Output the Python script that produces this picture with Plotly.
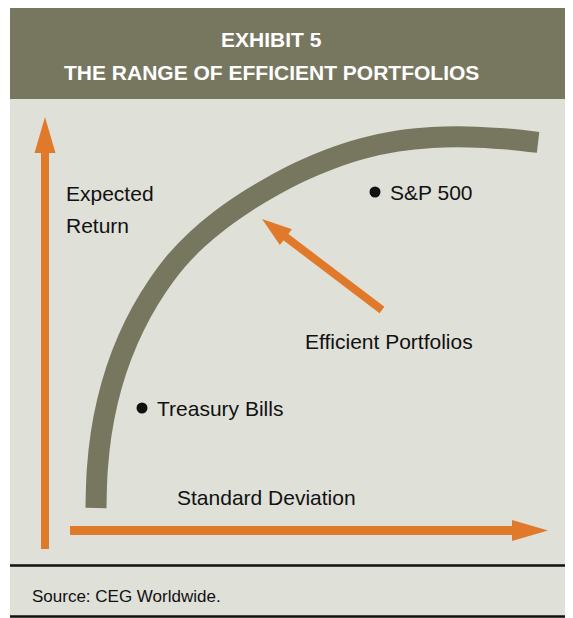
import math
import plotly.graph_objects as go

# ---------------- data (schematic diagram units; y measured upward) ----------------
frontier_x = [96, 97.3, 101.1, 107.5, 116.4, 127.8, 141.6, 157.7, 176.1, 197.1, 220.1,
              245.1, 272.1, 300.1, 330.1, 363.1, 397.1, 432.1, 468.1, 504.1, 538.1]
frontier_y = [110, 148.5, 183.7, 216.9, 248.3, 278, 306.1, 332.4, 356.9, 378.6, 397.9,
              415.4, 431.6, 446.2, 458.9, 469.6, 476.8, 480.5, 481.1, 479.2, 475.6]

asset_names = ["Treasury Bills", "S&P 500"]
asset_x = [142, 375]
asset_y = [210, 426]

title_lines = ["EXHIBIT 5", "THE RANGE OF EFFICIENT PORTFOLIOS"]
y_label_lines = ["Expected", "Return"]
x_label = "Standard Deviation"
frontier_label = "Efficient Portfolios"
source_text = "Source: CEG Worldwide."

# ---------------- style ----------------
W, H = 573, 618
OFF = 8  # page body margin compensation
OLIVE = "#77775F"
BG = "#DFE0D8"
ORANGE = "#E07A2A"
FONT = "Liberation Sans, Arial, Helvetica, sans-serif"
TXT = "#111111"
LBL = 21

fig = go.Figure()

fig.add_trace(go.Scatter(
    x=frontier_x, y=frontier_y, mode="lines",
    line=dict(color=OLIVE, width=21, shape="spline", smoothing=1.0),
    hoverinfo="skip", showlegend=False))

fig.add_trace(go.Scatter(
    x=asset_x, y=asset_y, mode="markers",
    marker=dict(color=TXT, size=11),
    hoverinfo="skip", showlegend=False))

shapes = []
shapes.append(dict(type="rect", xref="x", yref="y", x0=10, x1=W + 20, y0=H - 640, y1=H - 99,
                   fillcolor=BG, line=dict(width=0), layer="below"))
shapes.append(dict(type="rect", xref="x", yref="y", x0=10, x1=W + 20, y0=H - 99, y1=H - 4,
                   fillcolor=OLIVE, line=dict(width=0), layer="below"))
for py in (565.5, 616.5):
    shapes.append(dict(type="line", xref="x", yref="y", x0=10, x1=W + 20, y0=H - py, y1=H - py,
                       line=dict(color=TXT, width=2.5), layer="above"))


def arrow(tail, tip, head_len, half_w, shaft_w):
    dx, dy = tip[0] - tail[0], tip[1] - tail[1]
    L = math.hypot(dx, dy)
    ux, uy = dx / L, dy / L
    nx, ny = -uy, ux
    bx, by = tip[0] - head_len * ux, tip[1] - head_len * uy
    out = [dict(type="line", xref="x", yref="y", x0=tail[0], y0=tail[1],
                x1=bx + ux, y1=by + uy,
                line=dict(color=ORANGE, width=shaft_w), layer="above")]
    p1 = (bx + half_w * nx, by + half_w * ny)
    p2 = (bx - half_w * nx, by - half_w * ny)
    path = f"M {tip[0]},{tip[1]} L {p1[0]},{p1[1]} L {p2[0]},{p2[1]} Z"
    out.append(dict(type="path", xref="x", yref="y", path=path,
                    fillcolor=ORANGE, line=dict(width=0), layer="above"))
    return out


shapes += arrow((45, H - 549), (45, H - 117), 36, 10.5, 8)
shapes += arrow((70, H - 530.5), (548, H - 530.5), 36, 10.5, 9)
shapes += arrow((382, H - 310), (262, H - 219), 30, 10, 8)

annotations = []
for line, py in zip(title_lines, (39.5, 72.5)):
    annotations.append(dict(x=271, y=H - py, xref="x", yref="y", text=f"<b>{line}</b>",
                            showarrow=False, font=dict(family=FONT, size=21, color="white"),
                            xanchor="center", yanchor="middle"))
for line, py in zip(y_label_lines, (193, 225)):
    annotations.append(dict(x=64, y=H - py, xref="x", yref="y", text=line, showarrow=False,
                            font=dict(family=FONT, size=LBL, color=TXT),
                            xanchor="left", yanchor="middle"))
annotations.append(dict(x=175, y=H - 497, xref="x", yref="y", text=x_label, showarrow=False,
                        font=dict(family=FONT, size=LBL, color=TXT),
                        xanchor="left", yanchor="middle"))
annotations.append(dict(x=303, y=H - 341, xref="x", yref="y", text=frontier_label, showarrow=False,
                        font=dict(family=FONT, size=LBL, color=TXT),
                        xanchor="left", yanchor="middle"))
for name, ax_, ay_ in zip(asset_names, asset_x, asset_y):
    annotations.append(dict(x=ax_ + 13, y=ay_, xref="x", yref="y", text=name, showarrow=False,
                            font=dict(family=FONT, size=LBL, color=TXT),
                            xanchor="left", yanchor="middle"))
annotations.append(dict(x=30, y=H - 596, xref="x", yref="y", text=source_text, showarrow=False,
                        font=dict(family=FONT, size=17, color=TXT),
                        xanchor="left", yanchor="middle"))

fig.update_layout(
    width=W, height=H,
    margin=dict(l=0, r=0, t=0, b=0),
    paper_bgcolor="white", plot_bgcolor="white",
    xaxis=dict(range=[OFF, W + OFF], visible=False, fixedrange=True, domain=[0, 1]),
    yaxis=dict(range=[-OFF, H - OFF], visible=False, fixedrange=True, domain=[0, 1]),
    shapes=shapes, annotations=annotations,
    showlegend=False,
)

fig.write_html("out.html", config={"displayModeBar": False})
